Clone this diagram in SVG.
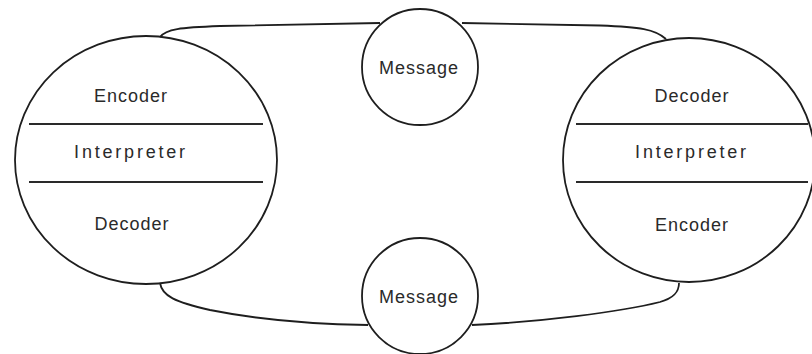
<svg xmlns="http://www.w3.org/2000/svg" width="812" height="354" viewBox="0 0 812 354">
  <style>
    .shape { fill: none; stroke: #1e1e1e; stroke-width: 1.8; }
    .rule { stroke: #2a2a2a; stroke-width: 2; }
    .conn { fill: none; stroke: #1e1e1e; stroke-width: 1.8; }
    text { font-family: "Liberation Sans", Arial, sans-serif; font-size: 18px; fill: #2a2a2a; text-anchor: middle; letter-spacing: 1px; }
    .wide { letter-spacing: 2.8px; }
  </style>
  <rect width="812" height="354" fill="#ffffff"/>
  <g id="connectors">
    <path class="conn" d="M160,37 C166,29 180,27.5 220,26 L380,23"/>
    <path class="conn" d="M462,23 L600,25.5 C640,27 655,29 666,39"/>
    <path class="conn" d="M160,283 C162,296 175,302 210,310 C250,318 300,324 368,325"/>
    <path class="conn" d="M472,325 C540,322 620,312 660,302 C674,298 679,292 679,283"/>
  </g>
  <g id="left-party">
    <ellipse class="shape" cx="146" cy="160" rx="131" ry="124"/>
    <line class="rule" x1="29" y1="124" x2="263" y2="124"/>
    <line class="rule" x1="29" y1="182" x2="263" y2="182"/>
    <text x="131" y="102">Encoder</text>
    <text class="wide" x="131" y="158">Interpreter</text>
    <text x="132" y="230">Decoder</text>
  </g>
  <g id="right-party">
    <ellipse class="shape" cx="689" cy="160" rx="126" ry="122"/>
    <line class="rule" x1="576" y1="124" x2="808" y2="124"/>
    <line class="rule" x1="576" y1="182" x2="808" y2="182"/>
    <text x="692" y="102">Decoder</text>
    <text class="wide" x="692" y="158">Interpreter</text>
    <text x="692" y="231">Encoder</text>
  </g>
  <g id="message-top">
    <circle class="shape" cx="420" cy="67" r="58"/>
    <text x="419" y="74">Message</text>
  </g>
  <g id="message-bottom">
    <circle class="shape" cx="420" cy="296" r="58"/>
    <text x="419" y="303">Message</text>
  </g>
</svg>
